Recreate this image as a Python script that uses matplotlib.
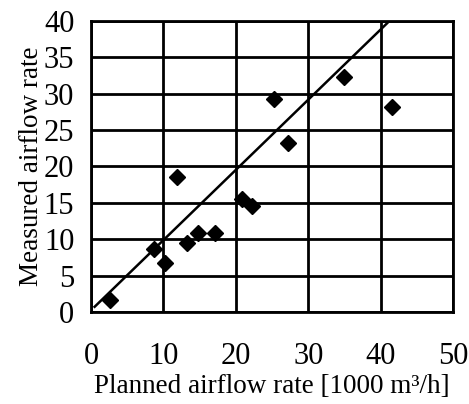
import matplotlib.pyplot as plt

# Planned vs measured airflow
planned = [2.6, 8.7, 10.2, 11.9, 13.3, 14.8, 17.1, 20.8, 22.3, 25.3, 27.2, 34.9, 41.6]
measured = [1.6, 8.7, 6.7, 18.5, 9.5, 10.8, 10.8, 15.5, 14.6, 29.3, 23.2, 32.3, 28.2]

# trend line end points
line_x = [0.5, 40.9]
line_y = [0.7, 39.7]

x_ticks = [0, 10, 20, 30, 40, 50]
y_ticks = [0, 5, 10, 15, 20, 25, 30, 35, 40]

plt.rcParams["font.family"] = ["Liberation Serif", "DejaVu Serif"]

fig = plt.figure(figsize=(4.69, 4.04), dpi=100)
ax = fig.add_axes([0.194, 0.228, 0.772, 0.72])

ax.plot(line_x, line_y, color="black", lw=1.8, zorder=3)
ax.plot(planned, measured, linestyle="none", marker="D", color="black", ms=8.5, zorder=4)

ax.set_xlim(0, 50)
ax.set_ylim(0, 40)
ax.set_xticks(x_ticks)
ax.set_yticks(y_ticks)
ax.grid(True, color="black", lw=2)
ax.set_axisbelow(True)
for s in ax.spines.values():
    s.set_linewidth(2)
ax.tick_params(axis="x", length=0, pad=22, labelsize=22)
ax.tick_params(axis="y", length=0, pad=12, labelsize=22)

ax.set_xlabel("Planned airflow rate [1000 m³/h]", fontsize=19.5, labelpad=2)
ax.set_ylabel("Measured airflow rate", fontsize=19.5, labelpad=0)

fig.savefig("out.png")
